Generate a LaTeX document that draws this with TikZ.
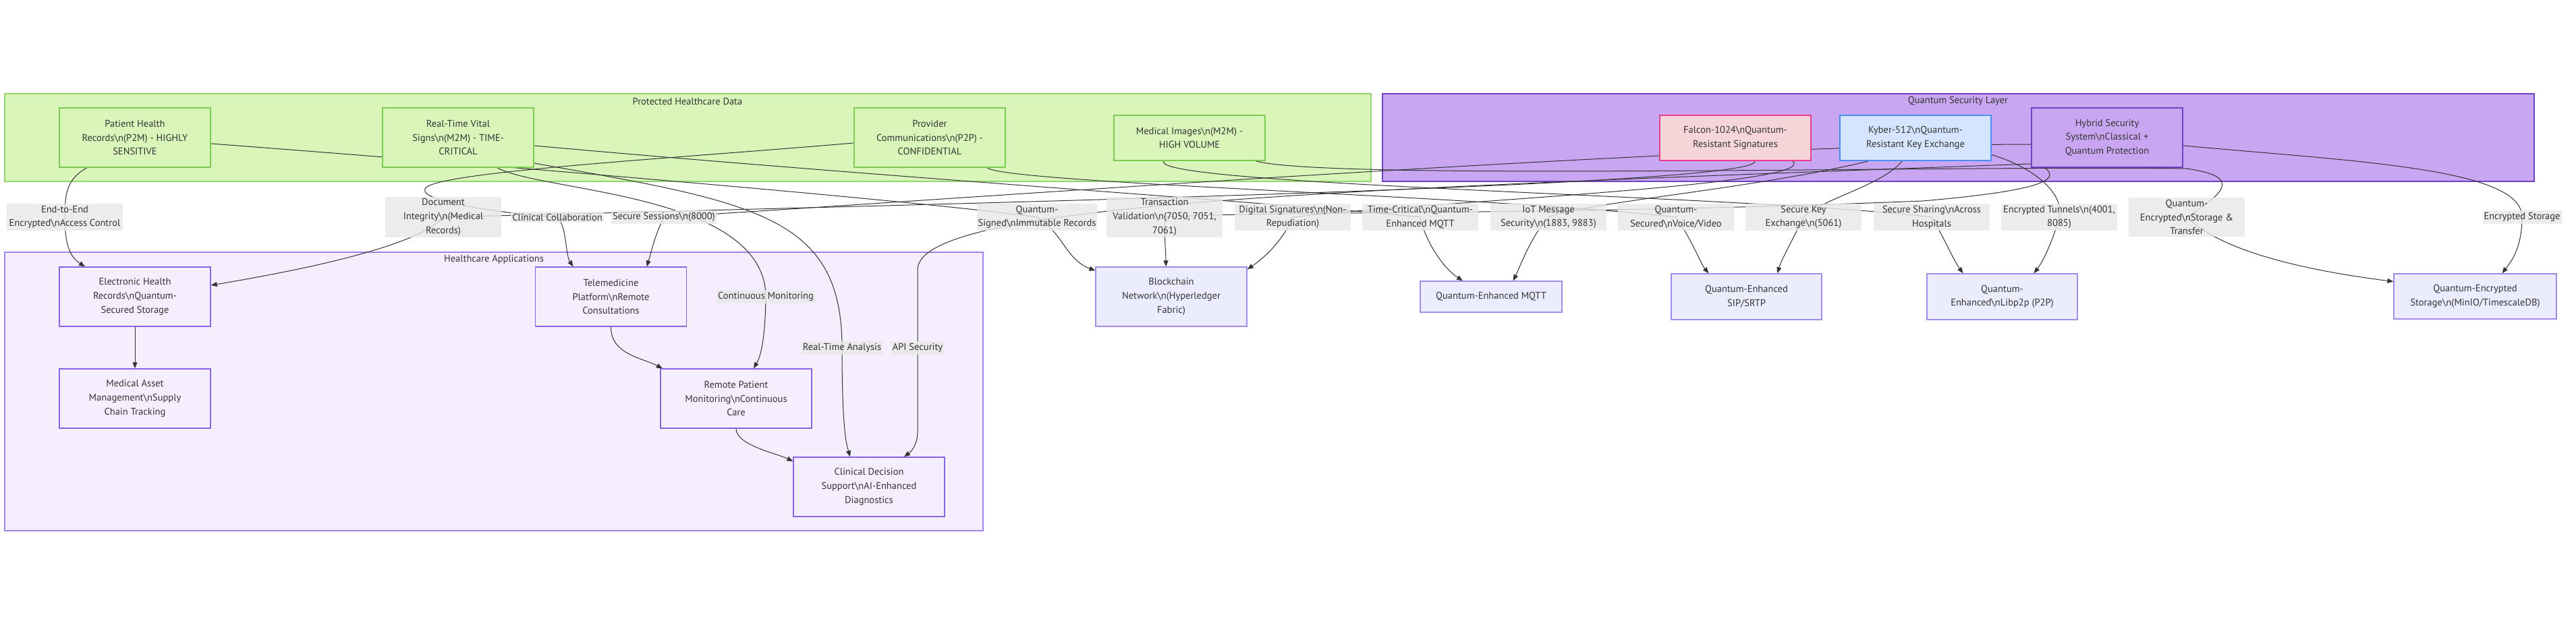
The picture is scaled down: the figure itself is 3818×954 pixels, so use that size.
\documentclass[tikz,border=0pt]{standalone}
\usepackage{fontspec}
\setmainfont{PT Sans}
\usetikzlibrary{arrows.meta}
\definecolor{txt}{HTML}{333333}
\definecolor{gfill}{HTML}{D9F5BA}
\definecolor{gclus}{HTML}{94D46E}
\definecolor{gnode}{HTML}{7CCB52}
\definecolor{pfill}{HTML}{C8A6F1}
\definecolor{pclus}{HTML}{6F42C1}
\definecolor{ffill}{HTML}{F6D5D9}
\definecolor{fline}{HTML}{E83E8C}
\definecolor{kfill}{HTML}{D5E5FF}
\definecolor{kline}{HTML}{4A90F2}
\definecolor{afill}{HTML}{F5EEFE}
\definecolor{aclus}{HTML}{A283EA}
\definecolor{anode}{HTML}{8A63E0}
\definecolor{ofill}{HTML}{ECECFF}
\definecolor{oline}{HTML}{A08BE6}
\definecolor{labg}{HTML}{E8E8E8}
\newcommand{\bsn}{\textbackslash n}
\newcommand{\fnt}{\fontsize{14.5}{20.7}\selectfont}
\pgfdeclarelayer{bglayer}
\pgfdeclarelayer{edgelayer}
\pgfsetlayers{bglayer,edgelayer,main}
\begin{document}
\begin{tikzpicture}[x=1pt,y=-1pt,
  every node/.style={font=\fnt, text=txt, align=center, inner sep=0pt},
  box/.style={draw, line width=1.3pt, minimum width=224pt, minimum height=88pt},
  gbox/.style={box, fill=gfill, draw=gnode},
  abox/.style={box, fill=afill, draw=anode},
  obox/.style={box, fill=ofill, draw=oline},
  lab/.style={fill=labg, fill opacity=0.82, text opacity=1, inner xsep=2pt, inner ysep=3pt},
  labw/.style={lab, minimum width=172pt},
  edge/.style={draw=txt, line width=1pt, -{Triangle[length=9pt,width=7pt]}}
]
\useasboundingbox (0,0) rectangle (3818,954);
\begin{pgfonlayer}{bglayer}
\fill[white] (0,0) rectangle (3818,954);
\draw[fill=gfill, draw=gclus, line width=1.5pt] (7,139) rectangle (2032,269);
\draw[fill=pfill, draw=pclus, line width=2pt] (2049,139) rectangle (3756,269);
\draw[fill=afill, draw=aclus, line width=1.5pt] (7,374) rectangle (1457,787);
\end{pgfonlayer}
\node (tg) at (1019,150) {Protected Healthcare Data};
\node (tq) at (2902,150) {Quantum Security Layer};
\node (ta) at (732,385) {Healthcare Applications};

% data nodes
\node[gbox] (PHR) at (200,204) {Patient Health\\Records\bsn(P2M) - HIGHLY\\SENSITIVE};
\node[gbox] (RTV) at (679,204) {Real-Time Vital\\Signs\bsn(M2M) - TIME-\\CRITICAL};
\node[gbox] (PC) at (1378,204) {Provider\\Communications\bsn(P2P) -\\CONFIDENTIAL};
\node[gbox, minimum height=67pt] (MI) at (1763,204.5) {Medical Images\bsn(M2M) -\\HIGH VOLUME};
% quantum nodes
\node[box, minimum height=67pt, fill=ffill, draw=fline, line width=2pt] (FAL) at (2572,204.5) {Falcon-1024\bsn Quantum-\\Resistant Signatures};
\node[box, minimum height=67pt, fill=kfill, draw=kline, line width=2pt] (KYB) at (2839,204.5) {Kyber-512\bsn Quantum-\\Resistant Key Exchange};
\node[box, fill=pfill, draw=pclus, line width=2.4pt] (HYB) at (3123,204) {Hybrid Security\\System\bsn Classical +\\Quantum Protection};
% applications
\node[abox] (EHR) at (200,440) {Electronic Health\\Records\bsn Quantum-\\Secured Storage};
\node[abox] (MAM) at (200,591) {Medical Asset\\Management\bsn Supply\\Chain Tracking};
\node[abox] (TEL) at (905.5,440) {Telemedicine\\Platform\bsn Remote\\Consultations};
\node[abox] (RPM) at (1091,591) {Remote Patient\\Monitoring\bsn Continuous\\Care};
\node[abox] (CDS) at (1288,722) {Clinical Decision\\Support\bsn AI-Enhanced\\Diagnostics};
% outside
\node[obox] (BC) at (1736,440) {Blockchain\\Network\bsn(Hyperledger\\Fabric)};
\node[obox, minimum width=210pt, minimum height=46pt] (MQ) at (2210,440) {Quantum-Enhanced MQTT};
\node[obox, minimum width=223pt, minimum height=68pt] (SIP) at (2588.5,440) {Quantum-Enhanced\\SIP/SRTP};
\node[obox, minimum width=223pt, minimum height=68pt] (LP) at (2967.5,440) {Quantum-\\Enhanced\bsn Libp2p (P2P)};
\node[obox, minimum width=241pt, minimum height=67pt] (QES) at (3668.5,439.5) {Quantum-Encrypted\\Storage\bsn(MinIO/TimescaleDB)};

% labels
\node[labw] (L1) at (96,322) {End-to-End\\Encrypted\bsn Access Control};
\node[labw] (L2) at (657,322) {Document\\Integrity\bsn(Medical\\Records)};
\node[lab] (L3) at (826,322) {Clinical Collaboration};
\node[lab] (L4) at (984,322) {Secure Sessions\bsn(8000)};
\node[labw] (L5) at (1537,322) {Quantum-\\Signed\bsn Immutable Records};
\node[labw] (L6) at (1726,322) {Transaction\\Validation\bsn(7050, 7051,\\7061)};
\node[labw] (L7) at (1916,322) {Digital Signatures\bsn(Non-\\Repudiation)};
\node[labw] (L8) at (2105,322) {Time-Critical\bsn Quantum-\\Enhanced MQTT};
\node[labw] (L9) at (2295,322) {IoT Message\\Security\bsn(1883, 9883)};
\node[labw] (L10) at (2484,322) {Quantum-\\Secured\bsn Voice/Video};
\node[labw] (L11) at (2673,322) {Secure Key\\Exchange\bsn(5061)};
\node[labw] (L12) at (2863,322) {Secure Sharing\bsn Across\\Hospitals};
\node[labw] (L13) at (3052,322) {Encrypted Tunnels\bsn(4001,\\8085)};
\node[labw] (L14) at (3241,322) {Quantum-\\Encrypted\bsn Storage \&\\Transfer};
\node[lab] (L15) at (3738,322) {Encrypted Storage};
\node[lab] (L16) at (1135,440) {Continuous Monitoring};
\node[lab] (L17) at (1248,516) {Real-Time Analysis};
\node[lab] (L18) at (1360,516) {API Security};

\begin{pgfonlayer}{edgelayer}
% E1
\draw[edge] ([xshift=-71pt]PHR.south) .. controls (100,265) and (96,285) .. (L1.center) .. controls (96,365) and (105,382) .. ([xshift=-74pt]EHR.north);
% E2
\draw[edge] ([yshift=-9pt]PHR.east) .. controls (800,250) and (1380,300) .. (L5.center) .. controls (1575,345) and (1580,385) .. ([yshift=-6pt]BC.north west);
% E3
\draw[edge] ([yshift=-12pt]RTV.east) .. controls (1300,262) and (1950,305) .. (L8.center) .. controls (2110,350) and (2135,395) .. ([xshift=-42pt]MQ.north);
% E4
\draw[edge] ([xshift=58pt]RTV.south) .. controls (800,285) and (1134,285) .. (L16.center) .. controls (1134,515) and (1125,532) .. ([xshift=26pt]RPM.north);
% E5
\draw[edge] ([yshift=-38pt]RTV.east) .. controls (1120,300) and (1248,320) .. (L17.center) .. controls (1248,640) and (1255,660) .. ([xshift=-28pt]CDS.north);
% E6
\draw[edge] ([yshift=-8pt]PC.west) .. controls (1000,235) and (640,255) .. (630,280) .. controls (620,300) and (760,318) .. (L3.center) .. controls (840,335) and (838,378) .. ([xshift=-56pt]TEL.north);
% E7
\draw[edge] ([xshift=29pt]FAL.south) .. controls (2606,275) and (1500,300) .. (L2.center) .. controls (620,365) and (450,400) .. ([yshift=17pt]EHR.east);
% E8
\draw[edge] ([xshift=85pt]PC.south) .. controls (1490,272) and (2200,290) .. (L10.center) .. controls (2510,360) and (2520,390) .. ([xshift=-56pt]SIP.north);
% E9
\draw[edge] ([xshift=-20pt]KYB.south) .. controls (2790,275) and (2700,295) .. (L11.center) .. controls (2660,350) and (2640,385) .. ([xshift=46pt]SIP.north);
% E10
\draw[edge] ([xshift=-70pt]KYB.south) .. controls (2600,280) and (2350,300) .. (L9.center) .. controls (2270,350) and (2255,390) .. ([xshift=33pt]MQ.north);
% E11
\draw[edge] ([xshift=-38pt]MI.south) .. controls (1700,275) and (2600,290) .. (L12.center) .. controls (2880,350) and (2895,385) .. ([xshift=-58pt]LP.north);
% E12
\draw[edge] ([yshift=-25pt]KYB.east) .. controls (3020,250) and (3060,290) .. (L13.center) .. controls (3045,350) and (3030,385) .. ([xshift=47pt]LP.north);
% E13
\draw[edge] ([xshift=98pt]MI.south) .. controls (1960,268) and (2900,245) .. (3240,250) .. controls (3330,262) and (3290,290) .. (L14.center) .. controls (3300,380) and (3450,405) .. ([yshift=22pt]QES.west);
% E14
\draw[edge] ([xshift=-92pt]HYB.south) .. controls (3060,270) and (3000,285) .. (2850,298) .. controls (2300,320) and (1900,312) .. (L6.center) .. controls (1726,360) and (1728,375) .. ([xshift=-8pt]BC.north);
% E15
\draw[edge] ([xshift=85pt]FAL.south) .. controls (2700,275) and (2100,300) .. (L7.center) .. controls (1900,360) and (1870,385) .. ([yshift=-4pt]BC.north east);
% E16
\draw[edge] ([yshift=-10pt]HYB.west) .. controls (2500,215) and (1500,290) .. (L4.center) .. controls (970,350) and (965,375) .. ([xshift=53pt]TEL.north);
% E17
\draw[edge] ([yshift=-39pt]HYB.west) .. controls (2000,280) and (1360,300) .. (1360,400) -- (L18.center) -- (1360,640) .. controls (1360,660) and (1350,670) .. ([xshift=52pt]CDS.north);
% E18
\draw[edge] ([yshift=-12pt]HYB.east) .. controls (3500,240) and (3738,250) .. (L15.center) .. controls (3738,370) and (3720,390) .. ([xshift=40pt]QES.north);
% E19-21
\draw[edge] (EHR.south) -- (MAM.north);
\draw[edge] (TEL.south) .. controls (905,525) and (950,530) .. ([xshift=-109pt]RPM.north);
\draw[edge] (RPM.south) .. controls (1091,660) and (1150,672) .. ([yshift=38pt]CDS.west);
\end{pgfonlayer}
\end{tikzpicture}
\end{document}
